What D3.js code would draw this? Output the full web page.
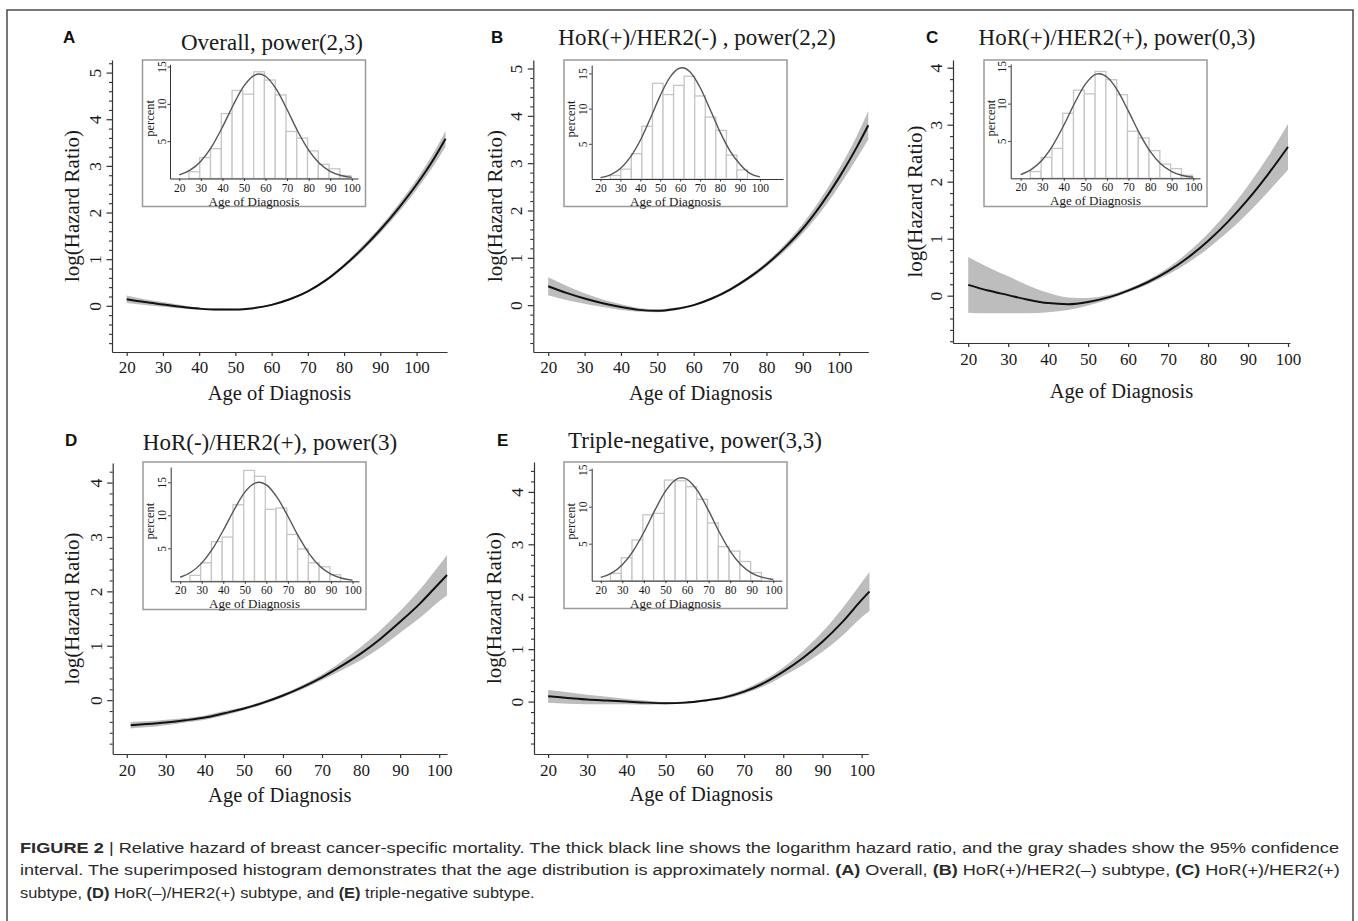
<!DOCTYPE html>
<html>
<head>
<meta charset="utf-8">
<title>Figure 2 - relative hazard by age of diagnosis</title>
<script src="https://cdn.jsdelivr.net/npm/d3@7"></script>
<style>
	html, body { margin: 0; padding: 0; background: #fff; }
	svg { display: block; }
	.serif { font-family: "Liberation Serif", "Times New Roman", Times, serif; fill: #1a1a1a; }
	.letter { font-family: "Liberation Sans", Arial, sans-serif; font-weight: bold; font-size: 17px; fill: #111; }
	.caption { font-family: "Liberation Sans Narrow", "Arial Narrow", "Liberation Sans", Arial, sans-serif; font-size: 15.5px; fill: #2a2a2a; }
	.caption .b { font-weight: bold; }
</style>
</head>
<body>
<div id="figure"></div>
<script>
/* global d3 */

// ---- main curves: log(Hazard Ratio) ----
var agesA = [20, 25, 30, 35, 40, 45, 50, 55, 60, 65, 70, 75, 80, 85, 90, 95, 100, 105, 108];
var fitA  = [0.14, 0.08, 0.03, -0.02, -0.06, -0.08, -0.08, -0.05, 0.02, 0.14, 0.31, 0.55, 0.86, 1.22, 1.63, 2.09, 2.6, 3.18, 3.58];
var lowA  = [0.06, 0.02, -0.02, -0.06, -0.09, -0.1, -0.1, -0.07, 0.0, 0.12, 0.29, 0.52, 0.82, 1.17, 1.56, 2.0, 2.49, 3.04, 3.41];
var highA = [0.22, 0.14, 0.08, 0.02, -0.04, -0.06, -0.07, -0.04, 0.04, 0.16, 0.33, 0.58, 0.9, 1.28, 1.7, 2.18, 2.71, 3.32, 3.75];

var agesB = [20, 25, 30, 35, 40, 45, 50, 55, 60, 65, 70, 75, 80, 85, 90, 95, 100, 105, 108];
var fitB  = [0.4, 0.26, 0.14, 0.04, -0.04, -0.1, -0.12, -0.08, 0.0, 0.14, 0.33, 0.57, 0.86, 1.21, 1.62, 2.12, 2.7, 3.36, 3.8];
var lowB  = [0.21, 0.11, 0.03, -0.04, -0.1, -0.14, -0.15, -0.11, -0.02, 0.12, 0.3, 0.53, 0.81, 1.14, 1.52, 1.98, 2.52, 3.12, 3.5];
var highB = [0.59, 0.41, 0.25, 0.12, 0.02, -0.06, -0.09, -0.05, 0.02, 0.17, 0.36, 0.61, 0.91, 1.28, 1.72, 2.26, 2.88, 3.6, 4.1];

var agesC = [20, 25, 30, 35, 40, 45, 50, 55, 60, 65, 70, 75, 80, 85, 90, 95, 100];
var fitC  = [0.19, 0.09, 0.01, -0.07, -0.13, -0.15, -0.11, -0.03, 0.09, 0.24, 0.43, 0.67, 0.96, 1.3, 1.69, 2.13, 2.61];
var lowC  = [-0.3, -0.31, -0.31, -0.31, -0.29, -0.25, -0.17, -0.07, 0.06, 0.2, 0.37, 0.58, 0.83, 1.12, 1.45, 1.82, 2.21];
var highC = [0.68, 0.5, 0.34, 0.18, 0.05, -0.03, -0.04, 0.01, 0.12, 0.28, 0.49, 0.76, 1.09, 1.48, 1.93, 2.44, 3.01];

var agesD = [21, 25, 30, 35, 40, 45, 50, 55, 60, 65, 70, 75, 80, 85, 90, 95, 100, 102];
var fitD  = [-0.46, -0.44, -0.41, -0.37, -0.32, -0.24, -0.155, -0.045, 0.085, 0.24, 0.42, 0.63, 0.86, 1.13, 1.44, 1.77, 2.15, 2.3];
var lowD  = [-0.52, -0.5, -0.46, -0.41, -0.36, -0.28, -0.185, -0.075, 0.055, 0.2, 0.37, 0.55, 0.74, 0.97, 1.24, 1.51, 1.82, 1.93];
var highD = [-0.4, -0.39, -0.36, -0.33, -0.28, -0.2, -0.125, -0.015, 0.115, 0.28, 0.47, 0.71, 0.98, 1.29, 1.64, 2.03, 2.48, 2.67];

var agesE = [20, 25, 30, 35, 40, 45, 50, 55, 60, 65, 70, 75, 80, 85, 90, 95, 100, 102];
var fitE  = [0.1, 0.07, 0.04, 0.02, 0.0, -0.02, -0.03, -0.02, 0.02, 0.08, 0.19, 0.35, 0.57, 0.83, 1.14, 1.51, 1.94, 2.1];
var lowE  = [-0.02, -0.04, -0.05, -0.05, -0.05, -0.06, -0.05, -0.04, 0.0, 0.05, 0.15, 0.29, 0.49, 0.7, 0.95, 1.25, 1.61, 1.73];
var highE = [0.22, 0.18, 0.13, 0.09, 0.05, 0.02, -0.01, 0.0, 0.04, 0.11, 0.23, 0.41, 0.65, 0.96, 1.33, 1.77, 2.27, 2.47];

// ---- inset histograms (percent per age bin) ----
var edgesStd = [24.5, 29.5, 34.5, 39.5, 44.5, 49.5, 54.5, 59.5, 64.5, 69.5, 74.5, 79.5, 84.5, 89.5, 94.5, 99.5];
var edgesB   = [24.9, 30.2, 35.5, 40.8, 46.1, 51.4, 56.7, 62.0, 67.3, 72.6, 77.9, 83.2, 88.5, 93.8];
var pctA = [0.9, 2.8, 4.0, 8.7, 11.8, 11.3, 14.3, 13.2, 11.2, 6.3, 5.4, 3.7, 1.9, 1.3, 0.4];
var pctB = [0.5, 1.4, 3.6, 7.5, 13.6, 12.0, 13.3, 14.6, 11.8, 8.8, 6.9, 3.4, 1.3];
var pctC = [0.9, 2.8, 4.0, 8.7, 11.8, 11.3, 14.3, 13.2, 11.2, 6.3, 5.4, 3.7, 1.9, 1.3, 0.4];
var pctD = [0.9, 2.8, 6.0, 6.7, 11.6, 16.8, 15.9, 10.9, 11.1, 7.1, 4.9, 2.8, 2.2, 1.0, 0.0];
var pctE = [1.0, 3.1, 5.5, 8.9, 9.1, 13.6, 13.5, 12.7, 11.0, 7.8, 4.6, 4.0, 2.6, 1.1, 0.0];

// ---- fitted normal curve over each histogram ----
var normAgesA = [20, 25, 30, 35, 40, 45, 50, 55, 57, 60, 65, 70, 75, 80, 85, 90, 95, 100];
var normA     = [0.48, 1.12, 2.32, 4.25, 6.87, 9.82, 12.4, 13.86, 14.0, 13.7, 11.96, 9.24, 6.3, 3.8, 2.03, 0.96, 0.4, 0.15];
var normAgesB = [20, 25, 30, 35, 40, 45, 50, 55, 60, 61, 65, 70, 75, 80, 85, 90, 95, 100];
var normB     = [0.2, 0.6, 1.5, 3.1, 5.5, 8.6, 11.85, 14.5, 15.77, 15.8, 15.2, 13.0, 9.9, 6.7, 4.0, 2.1, 0.8, 0.3];
var normAgesC = [20, 25, 30, 35, 40, 45, 50, 55, 56.5, 60, 65, 70, 75, 80, 85, 90, 95, 100];
var normC     = [0.5, 1.2, 2.45, 4.45, 7.1, 10.05, 12.6, 13.95, 14.0, 13.55, 11.7, 8.95, 6.05, 3.6, 1.9, 0.9, 0.37, 0.14];
var normAgesD = [20, 25, 30, 35, 40, 45, 50, 55, 56.7, 60, 65, 70, 75, 80, 85, 90, 95, 100];
var normD     = [0.61, 1.37, 2.75, 4.9, 7.73, 10.8, 13.5, 14.9, 15.0, 14.6, 12.7, 9.85, 6.76, 4.13, 2.23, 1.07, 0.46, 0.17];
var normAgesE = [20, 25, 30, 35, 40, 45, 50, 55, 57.5, 60, 65, 70, 75, 80, 85, 90, 95, 100];
var normE     = [0.44, 1.03, 2.16, 4.0, 6.54, 9.46, 12.1, 13.7, 13.9, 13.7, 12.1, 9.46, 6.54, 4.0, 2.16, 1.03, 0.44, 0.16];

// ---- tick labels ----
var ageTicks = [20, 30, 40, 50, 60, 70, 80, 90, 100];
var pctTicks = [5, 10, 15];

var panels = [
	{ letter: "A", title: "Overall, power(2,3)", letterPos: [63, 43], titlePos: [272, 50],
		ages: agesA, fit: fitA, low: lowA, high: highA,
		x: { domain: [15.95, 108.4], range: [112, 447] },
		y: { domain: [-0.99, 5.27], range: [352, 60] }, yMajor: [0, 1, 2, 3, 4, 5],
		ylabX: 72, xTickY: 367, xlabY: 400,
		inset: { box: [142.5, 60, 365.5, 206.5], x: { domain: [15.7, 102.9], range: [170, 358] },
			y: { domain: [0, 15.3], range: [178.5, 64.3] }, edges: edgesStd, pct: pctA, nAges: normAgesA, nVal: normA } },
	{ letter: "B", title: "HoR(+)/HER2(-) , power(2,2)", letterPos: [491, 43], titlePos: [697, 45],
		ages: agesB, fit: fitB, low: lowB, high: highB,
		x: { domain: [15.9, 108.0], range: [533.3, 868.3] },
		y: { domain: [-0.99, 5.18], range: [352, 60] }, yMajor: [0, 1, 2, 3, 4, 5],
		ylabX: 495, xTickY: 367, xlabY: 400,
		inset: { box: [564, 60, 787, 206.5], x: { domain: [15.6, 111.6], range: [591.7, 783] },
			y: { domain: [0, 16.2], range: [179, 65] }, edges: edgesB, pct: pctB, nAges: normAgesB, nVal: normB } },
	{ letter: "C", title: "HoR(+)/HER2(+), power(0,3)", letterPos: [926, 43], titlePos: [1117, 45],
		ages: agesC, fit: fitC, low: lowC, high: highC,
		x: { domain: [16.2, 100.5], range: [953, 1290] },
		y: { domain: [-0.83, 4.135], range: [343, 60] }, yMajor: [0, 1, 2, 3, 4],
		ylabX: 915, xTickY: 359, xlabY: 398,
		inset: { box: [984, 60, 1207, 206.5], x: { domain: [15.4, 103.1], range: [1010.7, 1200] },
			y: { domain: [0, 15.3], range: [178.3, 64] }, edges: edgesStd, pct: pctC, nAges: normAgesC, nVal: normC } },
	{ letter: "D", title: "HoR(-)/HER2(+), power(3)", letterPos: [65, 446], titlePos: [270, 450],
		ages: agesD, fit: fitD, low: lowD, high: highD,
		x: { domain: [16.4, 102.0], range: [112.7, 447] },
		y: { domain: [-0.99, 4.36], range: [754, 463] }, yMajor: [0, 1, 2, 3, 4],
		ylabX: 72, xTickY: 770, xlabY: 802,
		inset: { box: [143, 462, 366, 609.5], x: { domain: [15.6, 103], range: [170.7, 359] },
			y: { domain: [0, 17.3], range: [581.3, 467.1] }, edges: edgesStd, pct: pctD, nAges: normAgesD, nVal: normD } },
	{ letter: "E", title: "Triple-negative, power(3,3)", letterPos: [497, 446], titlePos: [695, 448],
		ages: agesE, fit: fitE, low: lowE, high: highE,
		x: { domain: [16.4, 101.7], range: [534, 868.3] },
		y: { domain: [-1.0, 4.57], range: [754, 462] }, yMajor: [0, 1, 2, 3, 4],
		ylabX: 494, xTickY: 770, xlabY: 801,
		inset: { box: [564, 462, 787, 608.5], x: { domain: [15.8, 103.9], range: [591.7, 781.7] },
			y: { domain: [0, 15.2], range: [580.7, 468.2] }, edges: edgesStd, pct: pctE, nAges: normAgesE, nVal: normE } }
];

var W = 1358, H = 921,
	serif = "\"Liberation Serif\", \"Times New Roman\", Times, serif",
	axisColor = "#333",
	bandColor = "#bdbdbd";

var svg = d3.select("#figure").append("svg")
	.attr("width", W)
	.attr("height", H)
	.attr("viewBox", "0 0 " + W + " " + H);

svg.append("rect").attr("width", W).attr("height", H).attr("fill", "#fff");

// outer frame (bottom edge runs off the page)
svg.append("rect")
	.attr("x", 7).attr("y", 10)
	.attr("width", 1346).attr("height", 930)
	.attr("fill", "none")
	.attr("stroke", "#555")
	.attr("stroke-width", 1.6);

function styleAxis(g, size) {
	g.attr("font-family", serif).attr("font-size", size);
	g.selectAll("path, line").attr("stroke", axisColor).attr("stroke-width", 1.2);
	g.selectAll("text").attr("fill", "#1a1a1a");
}

function drawInset(p) {
	var ins = p.inset,
		b = ins.box,
		x = d3.scaleLinear().domain(ins.x.domain).range(ins.x.range),
		y = d3.scaleLinear().domain(ins.y.domain).range(ins.y.range),
		g = svg.append("g").attr("class", "inset");

	g.append("rect")
		.attr("x", b[0]).attr("y", b[1])
		.attr("width", b[2] - b[0]).attr("height", b[3] - b[1])
		.attr("fill", "#fff")
		.attr("stroke", "#9a9a9a")
		.attr("stroke-width", 1.5);

	var bins = ins.pct.map(function(v, i) {
		return { x0: ins.edges[i], x1: ins.edges[i + 1], v: v };
	});

	g.append("g").selectAll("rect")
		.data(bins.filter(function(d) { return d.v > 0; }))
		.join("rect")
		.attr("x", function(d) { return x(d.x0); })
		.attr("y", function(d) { return y(d.v); })
		.attr("width", function(d) { return x(d.x1) - x(d.x0); })
		.attr("height", function(d) { return y(0) - y(d.v); })
		.attr("fill", "#fff")
		.attr("stroke", "#c6c6c6")
		.attr("stroke-width", 1.3);

	var pts = ins.nAges.map(function(a, i) { return [a, ins.nVal[i]]; });
	g.append("path")
		.datum(pts)
		.attr("fill", "none")
		.attr("stroke", "#555")
		.attr("stroke-width", 1.4)
		.attr("d", d3.line()
			.curve(d3.curveMonotoneX)
			.x(function(d) { return x(d[0]); })
			.y(function(d) { return y(d[1]); }));

	// axes
	var xg = g.append("g")
		.attr("transform", "translate(0," + ins.y.range[0] + ")")
		.call(d3.axisBottom(x).tickValues(ageTicks).tickSize(2.5).tickSizeOuter(0));
	styleAxis(xg, 11.5);
	xg.selectAll("path, line").attr("stroke-width", 1);
	xg.selectAll("text").attr("y", 9).attr("dy", "0.35em");

	var yg = g.append("g")
		.attr("transform", "translate(" + ins.x.range[0] + ",0)")
		.call(d3.axisLeft(y).tickValues(pctTicks).tickSize(2.5).tickSizeOuter(0));
	styleAxis(yg, 11.5);
	yg.selectAll("path, line").attr("stroke-width", 1);
	yg.selectAll("text")
		.attr("x", null)
		.attr("dy", "0.35em")
		.attr("text-anchor", "middle")
		.attr("transform", "translate(-8.5,0) rotate(-90)");

	g.append("text")
		.attr("class", "serif")
		.attr("font-size", 13)
		.attr("text-anchor", "middle")
		.attr("x", (b[0] + b[2]) / 2)
		.attr("y", ins.y.range[0] + 22.5)
		.attr("dy", "0.35em")
		.text("Age of Diagnosis");

	var midY = (ins.y.range[0] + ins.y.range[1]) / 2 - 3;
	g.append("text")
		.attr("class", "serif")
		.attr("font-size", 12.5)
		.attr("text-anchor", "middle")
		.attr("dy", "0.35em")
		.attr("transform", "translate(" + (b[0] + 7) + "," + midY + ") rotate(-90)")
		.text("percent");
}

function drawPanel(p) {
	var x = d3.scaleLinear().domain(p.x.domain).range(p.x.range),
		y = d3.scaleLinear().domain(p.y.domain).range(p.y.range),
		g = svg.append("g").attr("class", "panel"),
		rows = p.ages.map(function(a, i) {
			return { age: a, fit: p.fit[i], low: p.low[i], high: p.high[i] };
		});

	// 95% CI band and fitted line
	g.append("path")
		.datum(rows)
		.attr("fill", bandColor)
		.attr("d", d3.area()
			.curve(d3.curveMonotoneX)
			.x(function(d) { return x(d.age); })
			.y0(function(d) { return y(d.low); })
			.y1(function(d) { return y(d.high); }));

	g.append("path")
		.datum(rows)
		.attr("fill", "none")
		.attr("stroke", "#111")
		.attr("stroke-width", 2)
		.attr("d", d3.line()
			.curve(d3.curveMonotoneX)
			.x(function(d) { return x(d.age); })
			.y(function(d) { return y(d.fit); }));

	// x axis
	var xg = g.append("g")
		.attr("transform", "translate(0," + p.y.range[0] + ")")
		.call(d3.axisBottom(x).tickValues(ageTicks).tickSize(4).tickSizeOuter(0));
	styleAxis(xg, 17);
	xg.selectAll("text").attr("y", p.xTickY - p.y.range[0]).attr("dy", "0.35em");

	// y axis: majors with rotated labels, minors every 0.2
	var minor = d3.range(Math.ceil(p.y.domain[0] / 0.2) * 0.2, p.y.domain[1], 0.2)
		.filter(function(v) { return Math.abs(v - Math.round(v)) > 0.01; });
	var ym = g.append("g")
		.attr("transform", "translate(" + p.x.range[0] + ",0)")
		.call(d3.axisLeft(y).tickValues(minor).tickSize(3).tickFormat(""));
	ym.select(".domain").remove();
	ym.selectAll("line").attr("stroke", axisColor).attr("stroke-width", 1.1);

	var yg = g.append("g")
		.attr("transform", "translate(" + p.x.range[0] + ",0)")
		.call(d3.axisLeft(y).tickValues(p.yMajor).tickFormat(d3.format("d")).tickSize(5.5).tickSizeOuter(0));
	styleAxis(yg, 17.5);
	yg.selectAll("text")
		.attr("x", null)
		.attr("dy", "0.35em")
		.attr("text-anchor", "middle")
		.attr("transform", "translate(-17,0) rotate(-90)");

	// labels
	g.append("text")
		.attr("class", "serif")
		.attr("font-size", 20.5)
		.attr("text-anchor", "middle")
		.attr("x", (p.x.range[0] + p.x.range[1]) / 2)
		.attr("y", p.xlabY)
		.text("Age of Diagnosis");

	g.append("text")
		.attr("class", "serif")
		.attr("font-size", 21)
		.attr("text-anchor", "middle")
		.attr("dy", "0.35em")
		.attr("transform", "translate(" + p.ylabX + "," + ((p.y.range[0] + p.y.range[1]) / 2) + ") rotate(-90)")
		.text("log(Hazard Ratio)");

	g.append("text")
		.attr("class", "serif")
		.attr("font-size", 23)
		.attr("text-anchor", "middle")
		.attr("x", p.titlePos[0])
		.attr("y", p.titlePos[1])
		.text(p.title);

	g.append("text")
		.attr("class", "letter")
		.attr("x", p.letterPos[0])
		.attr("y", p.letterPos[1])
		.text(p.letter);

	drawInset(p);
}

panels.forEach(drawPanel);

// ---- caption ----
var captionLines = [
	{ y: 853, right: 1340, parts: [["FIGURE 2", true], [" | Relative hazard of breast cancer-specific mortality. The thick black line shows the logarithm hazard ratio, and the gray shades show the 95% confidence", false]] },
	{ y: 875, right: 1341, parts: [["interval. The superimposed histogram demonstrates that the age distribution is approximately normal. ", false], ["(A)", true], [" Overall, ", false], ["(B)", true], [" HoR(+)/HER2(\u2013) subtype, ", false], ["(C)", true], [" HoR(+)/HER2(+)", false]] },
	{ y: 898, right: 535, parts: [["subtype, ", false], ["(D)", true], [" HoR(\u2013)/HER2(+) subtype, and ", false], ["(E)", true], [" triple-negative subtype.", false]] }
];
var capLeft = 20;

captionLines.forEach(function(line) {
	var t = svg.append("text")
		.attr("class", "caption")
		.attr("x", capLeft)
		.attr("y", line.y);
	line.parts.forEach(function(pt) {
		t.append("tspan").attr("class", pt[1] ? "b" : null).text(pt[0]);
	});
	// squeeze/stretch horizontally to the measured line width
	var w = t.node().getComputedTextLength(),
		sx = (line.right - capLeft) / w;
	t.attr("transform", "translate(" + capLeft + ",0) scale(" + sx + ",1) translate(" + (-capLeft) + ",0)");
});
</script>
</body>
</html>
